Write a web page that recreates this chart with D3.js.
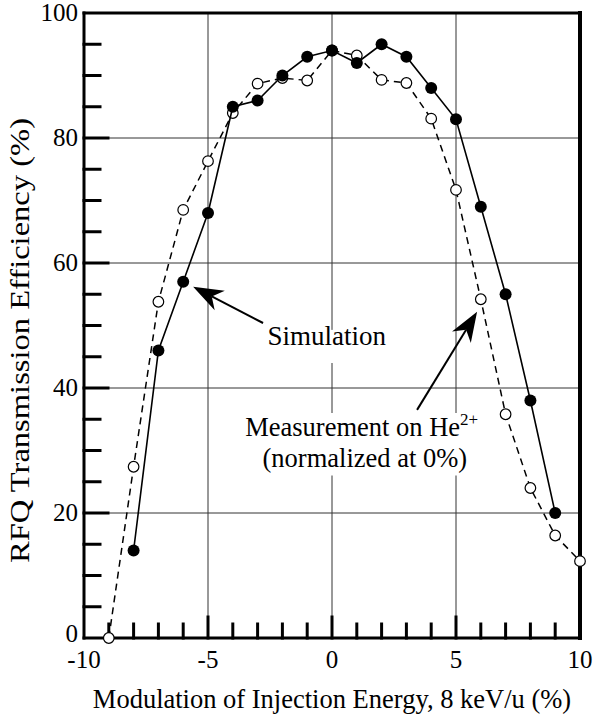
<!DOCTYPE html>
<html>

<head>
    <title>RFQ Transmission Efficiency</title>
    <script src="https://d3js.org/d3.v7.min.js"></script>
    <style>
        html,
        body {
            margin: 0;
            padding: 0;
            background: #fff;
            overflow: hidden;
        }

        #chart text {
            font-family: "Liberation Serif", "DejaVu Serif", serif;
            fill: #000;
        }

        .grid line {
            stroke: #333;
            stroke-width: 1;
        }

        .frame line {
            stroke: #000;
            stroke-linecap: square;
        }
    </style>
</head>

<body>
    <svg id="chart" width="595" height="716" font-family="Liberation Serif, serif"></svg>

    <script>
        // Datos
        const simX = [-8, -7, -6, -5, -4, -3, -2, -1, 0, 1, 2, 3, 4, 5, 6, 7, 8, 9];
        const simY = [14, 46, 57, 68, 85, 86, 90, 93, 94, 92, 95, 93, 88, 83, 69, 55, 38, 20];

        const measX = [-9, -8, -7, -6, -5, -4, -3, -2, -1, 0, 1, 2, 3, 4, 5, 6, 7, 8, 9, 10];
        const measY = [0, 27.4, 53.8, 68.5, 76.3, 84, 88.7, 89.6, 89.2, 94, 93.2, 89.3, 88.8, 83.1, 71.7, 54.2, 35.8, 24, 16.4, 12.3];

        const xTicks = [-10, -5, 0, 5, 10];
        const yTicks = [0, 20, 40, 60, 80, 100];

        // Configuración
        const margin = { top: 13, right: 15, bottom: 78, left: 84 };
        const width = 595;
        const height = 716;

        const svg = d3.select("#chart");

        const x = d3.scaleLinear().domain([-10, 10]).range([margin.left, width - margin.right]);
        const y = d3.scaleLinear().domain([0, 100]).range([height - margin.bottom, margin.top]);

        const x0 = x(-10), x1 = x(10), y0 = y(0), y1 = y(100);

        // Rejilla
        const grid = svg.append("g").attr("class", "grid");
        grid.selectAll(".v")
            .data([-5, 0, 5])
            .enter().append("line")
            .attr("x1", d => x(d)).attr("x2", d => x(d))
            .attr("y1", y1).attr("y2", y0);
        grid.selectAll(".h")
            .data([20, 40, 60, 80])
            .enter().append("line")
            .attr("x1", x0).attr("x2", x1)
            .attr("y1", d => y(d)).attr("y2", d => y(d));

        // Marcas del eje Y (cada 5, mayores cada 20)
        const frame = svg.append("g").attr("class", "frame");
        frame.selectAll(".yt")
            .data(d3.range(5, 100, 5))
            .enter().append("line")
            .attr("x1", x0)
            .attr("x2", d => x0 + (d % 20 === 0 ? 24 : 16))
            .attr("y1", d => y(d)).attr("y2", d => y(d))
            .attr("stroke-width", 3);

        // Marcas del eje X (cada 1, mayores cada 5)
        frame.selectAll(".xt")
            .data(d3.range(-9, 10, 1))
            .enter().append("line")
            .attr("x1", d => x(d)).attr("x2", d => x(d))
            .attr("y1", y0)
            .attr("y2", d => y0 - (d % 5 === 0 ? 21 : 14))
            .attr("stroke-width", 3);

        // Marco
        frame.append("line").attr("x1", x0).attr("x2", x1).attr("y1", y1).attr("y2", y1).attr("stroke-width", 3);
        frame.append("line").attr("x1", x0).attr("x2", x1).attr("y1", y0).attr("y2", y0).attr("stroke-width", 3);
        frame.append("line").attr("x1", x0).attr("x2", x0).attr("y1", y1).attr("y2", y0).attr("stroke-width", 3);
        frame.append("line").attr("x1", x1).attr("x2", x1).attr("y1", y1).attr("y2", y0).attr("stroke-width", 4);

        // Etiquetas de los ejes
        svg.append("g").selectAll("text")
            .data(yTicks)
            .enter().append("text")
            .attr("x", x0 - 6)
            .attr("y", d => y(d) + (d === 0 ? -4 : 0))
            .attr("dy", "0.33em")
            .attr("text-anchor", "end")
            .attr("font-size", 25)
            .text(d => d);

        svg.append("g").selectAll("text")
            .data(xTicks)
            .enter().append("text")
            .attr("x", d => x(d))
            .attr("y", y0 + 30)
            .attr("text-anchor", "middle")
            .attr("font-size", 25)
            .text(d => d);

        svg.append("text")
            .attr("x", (x0 + x1) / 2)
            .attr("y", 708)
            .attr("text-anchor", "middle")
            .attr("font-size", 26.5)
            .text("Modulation of Injection Energy, 8 keV/u (%)");

        svg.append("text")
            .attr("transform", `translate(29, ${(y0 + y1) / 2 + 15}) rotate(-90)`)
            .attr("text-anchor", "middle")
            .attr("font-size", 26.5)
            .attr("textLength", 445)
            .attr("lengthAdjust", "spacingAndGlyphs")
            .text("RFQ Transmission Efficiency (%)");

        // Anotaciones (fondo blanco que corta la rejilla)
        const notes = svg.append("g");

        function whiteBox(x, y, w, h) {
            notes.append("rect").attr("x", x).attr("y", y).attr("width", w).attr("height", h).attr("fill", "#fff");
        }

        whiteBox(x(-2.75), y(49.3), x(2.3) - x(-2.75), y(44) - y(49.3));
        whiteBox(x(-3.6), y(36), x(5.6) - x(-3.6), y(26) - y(36));

        notes.append("text")
            .attr("x", x(-2.6)).attr("y", y(46.9))
            .attr("font-size", 27)
            .text("Simulation");

        const m = notes.append("text")
            .attr("x", x(-3.5)).attr("y", y(32.3))
            .attr("font-size", 26.5);
        m.append("tspan").text("Measurement on He");
        m.append("tspan").attr("dy", -11).attr("font-size", 17).text("2+");

        notes.append("text")
            .attr("x", x(-2.8)).attr("y", y(27.4))
            .attr("font-size", 26.5)
            .text("(normalized at 0%)");

        // Flechas
        function arrow(from, to) {
            const fx = x(from[0]), fy = y(from[1]);
            const tx = x(to[0]), ty = y(to[1]);
            const ang = Math.atan2(ty - fy, tx - fx);
            const len = 30, half = 11, notch = 21;
            const ux = Math.cos(ang), uy = Math.sin(ang);
            const bx = tx - ux * len, by = ty - uy * len;
            const nx = tx - ux * notch, ny = ty - uy * notch;
            notes.append("line")
                .attr("x1", fx).attr("y1", fy).attr("x2", nx).attr("y2", ny)
                .attr("stroke", "#000").attr("stroke-width", 2);
            notes.append("path")
                .attr("d", `M${tx},${ty} L${bx - uy * half},${by + ux * half} L${nx},${ny} L${bx + uy * half},${by - ux * half} Z`)
                .attr("fill", "#000");
        }

        arrow([-2.78, 50.4], [-5.6, 56.2]);
        arrow([3.43, 36.5], [5.85, 52.2]);

        // Series
        const line = d3.line().x(d => x(d[0])).y(d => y(d[1]));

        const meas = measX.map((v, i) => [v, measY[i]]);
        const sim = simX.map((v, i) => [v, simY[i]]);

        svg.append("path")
            .datum(meas)
            .attr("d", line)
            .attr("fill", "none")
            .attr("stroke", "#000")
            .attr("stroke-width", 1.5)
            .attr("stroke-dasharray", "7,5");

        svg.append("g").selectAll("circle")
            .data(meas)
            .enter().append("circle")
            .attr("cx", d => x(d[0]))
            .attr("cy", d => y(d[1]))
            .attr("r", 5.3)
            .attr("fill", "#fff")
            .attr("stroke", "#000")
            .attr("stroke-width", 1.2);

        svg.append("path")
            .datum(sim)
            .attr("d", line)
            .attr("fill", "none")
            .attr("stroke", "#000")
            .attr("stroke-width", 1.6);

        svg.append("g").selectAll("circle")
            .data(sim)
            .enter().append("circle")
            .attr("cx", d => x(d[0]))
            .attr("cy", d => y(d[1]))
            .attr("r", 6)
            .attr("fill", "#000");
    </script>
</body>

</html>
